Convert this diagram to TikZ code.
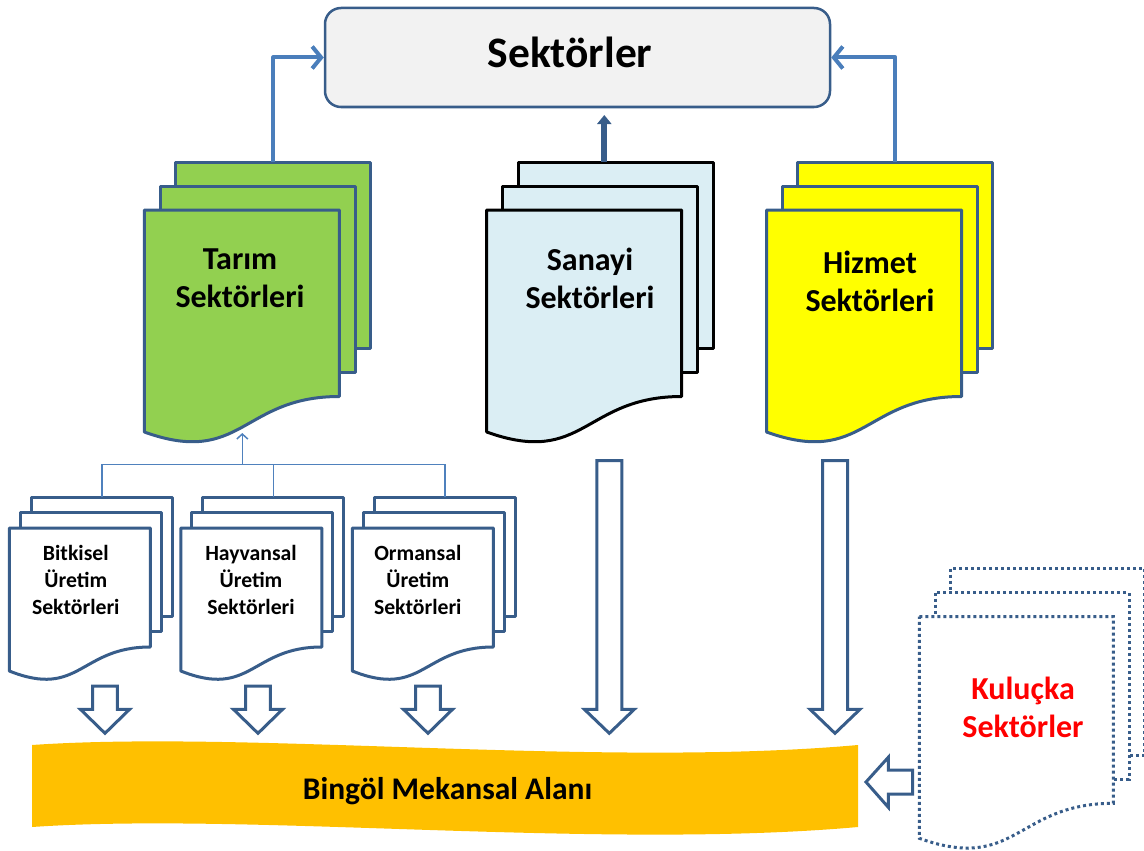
\documentclass[tikz,border=0pt]{standalone}
\usepackage{fontspec}
\setmainfont{Carlito}
\usetikzlibrary{arrows.meta}
\definecolor{docblue}{RGB}{56,93,138}
\definecolor{arrowblue}{RGB}{74,126,187}
\definecolor{lineblue}{RGB}{79,129,189}
\definecolor{tgreen}{RGB}{146,208,80}
\definecolor{slblue}{RGB}{219,238,244}
\definecolor{hyellow}{RGB}{255,255,0}
\definecolor{borange}{RGB}{255,192,0}
\definecolor{tgray}{RGB}{242,242,242}
\definecolor{kred}{RGB}{255,0,0}
\newcommand{\mdoc}[9]{%
  % #1 style, #2 x, #3 y, #4 w, #5 hr, #6 hl, #7 dx, #8 dy, #9 dip
  \draw[#1] (#2+2*#7,#3-2*#8) rectangle ++(#4,#5);
  \draw[#1] (#2+#7,#3-#8) rectangle ++(#4,#5);
  \draw[#1] (#2,#3) -- (#2+#4,#3) -- (#2+#4,#3+#5)
     .. controls (#2+#4/2,#3+#5) and (#2+#4/2,#3+#6+#9) .. (#2,#3+#6) -- cycle;
}
\newcommand{\blkdown}[6]{%
  % #1 cx, #2 top, #3 head start, #4 tip, #5 shaft half, #6 head half
  \draw[blkarrow] (#1-#5,#2) -- (#1+#5,#2) -- (#1+#5,#3) -- (#1+#6,#3) -- (#1,#4)
     -- (#1-#6,#3) -- (#1-#5,#3) -- cycle;
}
\tikzset{
  docline/.style={draw=docblue,line width=3,line join=round},
  blkarrow/.style={draw=docblue,fill=white,line width=3,line join=miter},
  bigtxt/.style={font=\fontsize{32}{38}\selectfont\bfseries,align=center,inner sep=0},
  smalltxt/.style={font=\fontsize{21.7}{27}\selectfont\bfseries,align=center,inner sep=0},
  toarrow/.style={draw=arrowblue,line width=4,line join=round,-{Straight Barb[length=9,width=22,line width=4]}},
  treeline/.style={draw=lineblue,line width=1.5},
  dotline/.style={draw=docblue,line width=3,dash pattern=on 3pt off 3pt,fill=white},
}
\begin{document}
\begin{tikzpicture}[x=1pt,y=-1pt]
\useasboundingbox (0,0) rectangle (1144,851);
\clip (0,0) rectangle (1144,851);
% title box
\node[draw=docblue,fill=tgray,line width=2.5,rounded corners=16,minimum width=505,minimum height=99,inner sep=0] (sek) at (577.5,57.5) {};
\node[anchor=base,font=\fontsize{43.5}{50}\selectfont\bfseries,inner sep=0] (sektitle) at (570,68) {Sektörler};
% big documents
\mdoc{docline,fill=tgreen}{144.3}{210}{195}{186.5}{222}{15.7}{24}{35}
\mdoc{draw=black,line width=3,line join=round,fill=slblue}{486.7}{210}{195}{186.5}{222}{15.7}{24}{35}
\mdoc{docline,fill=hyellow}{766.5}{210}{195}{186.5}{222}{15.7}{24}{35}
\mdoc{dotline}{919.3}{616.7}{194}{186.6}{221.6}{15.7}{24}{35}
\node[bigtxt] (tarim) at (240,278) {Tarım\\Sektörleri};
\node[bigtxt] (sanayi) at (590,278) {Sanayi\\Sektörleri};
\node[bigtxt] (hizmet) at (870,281) {Hizmet\\Sektörleri};
\node[bigtxt,text=kred] (kulucka) at (1023,707) {Kuluçka\\Sektörler};
% small documents
\mdoc{docline,fill=white}{9.3}{528}{141}{119}{143}{11}{15.5}{28}
\mdoc{docline,fill=white}{180.8}{528}{141}{119}{143}{11}{15.5}{28}
\mdoc{docline,fill=white}{352.3}{528}{141}{119}{143}{11}{15.5}{28}
\node[smalltxt] (bitkisel) at (75.8,580) {Bitkisel\\Üretim\\Sektörleri};
\node[smalltxt] (hayvansal) at (251,580) {Hayvansal\\Üretim\\Sektörleri};
\node[smalltxt] (ormansal) at (417.8,580) {Ormansal\\Üretim\\Sektörleri};
% connector coordinates
\coordinate (tarT) at (273.3,162);
\coordinate (hizT) at (895.4,162);
\coordinate (sanT) at (604.3,162);
\coordinate (sanTip) at (604.3,115);
\coordinate (bitT) at (101.8,497);
\coordinate (hayT) at (273.3,497);
\coordinate (ormT) at (444.8,497);
\coordinate (bus) at (242.3,464.3);
\coordinate (tarB) at (242.3,433);
% arrows to title
\draw[toarrow] (tarT) |- (sek.west);
\draw[toarrow] (hizT) |- (sek.east);
\draw[draw=docblue,line width=6,-{Triangle[length=9,width=14]}] (sanT) -- (sanTip);
% tree
\draw[treeline] (bitT) -- (bitT |- bus) -- (ormT |- bus) -- (ormT);
\draw[treeline] (hayT) -- (hayT |- bus);
\draw[treeline,-{Straight Barb[length=5,width=11,line width=1.5]}] (bus) -- (tarB);
% banner
\fill[borange] (32,745) .. controls (250,730) and (600,768) .. (858,745) -- (858,827)
   .. controls (600,850) and (250,812) .. (32,827) -- cycle;
\node[anchor=base,font=\fontsize{31.5}{36}\selectfont\bfseries,inner sep=0] (bingol) at (447.5,799) {Bingöl Mekansal Alanı};
% block arrows
\blkdown{105}{686}{709.3}{733.3}{12.3}{24.6}
\blkdown{258}{686}{709.3}{733.3}{12.3}{24.6}
\blkdown{428}{686}{709.3}{733.3}{12.3}{24.6}
\blkdown{609.3}{460.7}{709.3}{733.3}{12.5}{25}
\blkdown{835}{460.7}{709.3}{733.3}{12.5}{25}
\draw[blkarrow] (912.7,770) -- (912.7,794) -- (888.3,794) -- (888.3,807.3) -- (866,782)
   -- (888.3,757.3) -- (888.3,770) -- cycle;
\end{tikzpicture}
\end{document}
